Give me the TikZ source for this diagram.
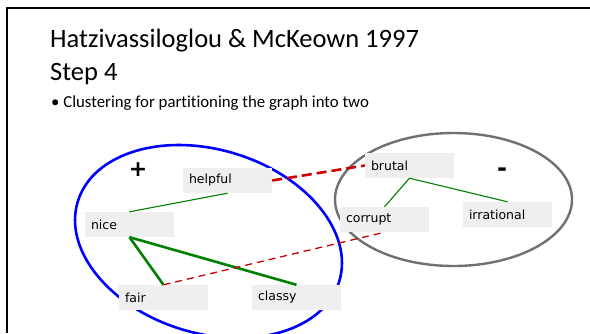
\documentclass[tikz,border=0pt]{standalone}
\usepackage{fontspec}
\setmainfont{Carlito}[Ligatures=NoCommon]
\newfontfamily\boxfont{DejaVu Sans}
\usepackage{xcolor}
\usepackage{tikz}
\usetikzlibrary{positioning}

\definecolor{boxgray}{HTML}{EFEFEF}
\definecolor{edgegreen}{HTML}{008000}
\definecolor{cutred}{HTML}{CC0000}
\definecolor{ringgray}{HTML}{707070}

\begin{document}
\begin{tikzpicture}[
  x=1pt, y=-1pt,
  word/.style={fill=boxgray, inner xsep=6pt, inner ysep=0pt, text width=77pt, align=left, minimum height=25pt, font=\boxfont\fontsize{12.5}{14}\selectfont},
  same/.style={draw=edgegreen, line width=1.1pt},
  samebold/.style={draw=edgegreen, line width=2.6pt},
  cut/.style={draw=cutred, line width=2.6pt, dash pattern=on 10pt off 5pt},
  cutthin/.style={draw=cutred, line width=1.3pt, dash pattern=on 7pt off 5pt}
]
\useasboundingbox (0,0) rectangle (590,333);
\draw[line width=2pt] (7,333) -- (7,8) -- (590,8);
\node[anchor=base west, inner sep=0pt, font=\fontsize{26.5}{30}\selectfont] (title) at (50,47) {Hatzivassiloglou \& McKeown 1997};
\node[anchor=base west, inner sep=0pt, font=\fontsize{26.5}{30}\selectfont] (step) at (50,80) {Step 4};
\node[anchor=base west, inner sep=0pt, font=\fontsize{16.8}{20}\selectfont] (bullet) at (51,107) {\textbullet{} Clustering for partitioning the graph into two};

% the two clusters
\draw[blue, line width=2.6pt, rotate around={-17:(208.5,241.5)}] (208.5,241.5) ellipse [x radius=136.7pt, y radius=91.8pt];
\draw[ringgray, line width=2.4pt] (453.5,199.5) ellipse [x radius=118.5pt, y radius=66.5pt];
\node[font=\boxfont\bfseries\fontsize{22}{24}\selectfont] (plus) at (138,170) {+};
\node[font=\boxfont\bfseries\fontsize{24}{26}\selectfont] (minus) at (502,172) {-};

% words
\node[word] (helpful) at (227.5,180.5) {helpful};
\node[word] (nice) at (129.5,224.5) {nice};
\node[word] (fair) at (163.5,297.5) {fair};
\node[word] (classy) at (296.5,297.5) {classy};
\node[word] (brutal) at (409.5,165.5) {brutal};
\node[word] (corrupt) at (384.5,219.5) {corrupt};
\node[word] (irrational) at (507.5,214.5) {irrational};

% links
\draw[same] (helpful.south) -- (nice.north);
\draw[samebold] (nice.south) -- (fair.north);
\draw[samebold] (nice.south) -- (classy.north);
\draw[same] (brutal.south) -- (corrupt.north);
\draw[same] (brutal.south) -- (irrational.north);
\draw[cut] (helpful.east) -- (brutal.west);
\draw[cutthin] (fair.north) -- (corrupt.south);
\end{tikzpicture}
\end{document}
